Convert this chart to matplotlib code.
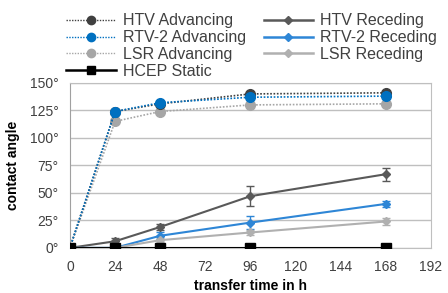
import matplotlib
matplotlib.use("Agg")
import matplotlib.pyplot as plt
from matplotlib.lines import Line2D

plt.rcParams['font.family'] = ['Liberation Sans', 'DejaVu Sans']

time_h = [0, 24, 48, 96, 168]
htv_adv = [0, 124, 131, 140, 141]
rtv_adv = [0, 124, 132, 137, 138]
lsr_adv = [0, 115, 124, 130, 131]
htv_rec = [0, 6, 19, 47, 67]
rtv_rec = [0, 0, 11, 23, 40]
lsr_rec = [0, 0, 7, 14, 24]
hcep_static = [0, 0, 0, 0, 0]
htv_adv_err = [0, 2, 2, 2, 2]
rtv_adv_err = [0, 2, 2, 2, 2]
lsr_adv_err = [0, 2, 2, 2, 2]
htv_rec_err = [0, 3, 3, 9, 6]
rtv_rec_err = [0, 1, 3, 6, 3]
lsr_rec_err = [0, 1, 2, 2, 3]

xticks = [0, 24, 48, 72, 96, 120, 144, 168, 192]
yticks = [0, 25, 50, 75, 100, 125, 150]

c_dark = '#404040'
c_blue = '#0070C0'
c_light = '#a6a6a6'
c_rdark = '#595959'
c_rblue = '#2e86d6'
c_rlight = '#b0b0b0'

fig = plt.figure(figsize=(4.48, 2.93), dpi=100)
ax = fig.add_axes([0.156, 0.154, 0.806, 0.563])

adv_ls = (0, (1, 1))

def adv(y, err, c):
    ax.errorbar(time_h, y, yerr=err, color=c, ls=adv_ls, lw=1.2,
                marker='o', ms=7, capsize=2, elinewidth=1, zorder=3)

def rec(y, err, c):
    ax.errorbar(time_h, y, yerr=err, color=c, ls='-', lw=1.5,
                marker='D', ms=4, capsize=3, elinewidth=1, zorder=4)

rec(htv_rec, htv_rec_err, c_rdark)
rec(rtv_rec, rtv_rec_err, c_rblue)
rec(lsr_rec, lsr_rec_err, c_rlight)
adv(lsr_adv, lsr_adv_err, c_light)
adv(htv_adv, htv_adv_err, c_dark)
adv(rtv_adv, rtv_adv_err, c_blue)
ax.plot(time_h, hcep_static, color='black', lw=1.5, marker='s', ms=7, zorder=5)

ax.set_xlim(0, 192)
ax.set_ylim(0, 150)
ax.set_xticks(xticks)
ax.set_yticks(yticks)
ax.set_yticklabels([f'{v}°' for v in yticks])
ax.tick_params(length=0, labelsize=10, colors='#404040')
ax.tick_params(axis='y', pad=8)
ax.tick_params(axis='x', pad=9)
ax.grid(axis='y', color='#bfbfbf', lw=1)
ax.set_axisbelow(True)
for s in ax.spines.values():
    s.set_color('#bfbfbf')
ax.spines['left'].set_color('#a0a0a0')
ax.set_xlabel('transfer time in h', fontsize=10, fontweight='bold', labelpad=3)
ax.set_ylabel('contact angle', fontsize=10, fontweight='bold', labelpad=7)

handles = [
    Line2D([], [], color=c_dark, ls=adv_ls, lw=1.0, marker='o', ms=6),
    Line2D([], [], color=c_blue, ls=adv_ls, lw=1.0, marker='o', ms=6),
    Line2D([], [], color=c_light, ls=adv_ls, lw=1.0, marker='o', ms=6),
    Line2D([], [], color='black', lw=1.8, marker='s', ms=6),
    Line2D([], [], color=c_rdark, lw=1.8, marker='D', ms=4),
    Line2D([], [], color=c_rblue, lw=1.8, marker='D', ms=4),
    Line2D([], [], color=c_rlight, lw=1.8, marker='D', ms=4),
]
labels = ['HTV Advancing', 'RTV-2 Advancing', 'LSR Advancing', 'HCEP Static',
          'HTV Receding', 'RTV-2 Receding', 'LSR Receding']
fig.legend(handles, labels, ncol=2, loc='upper left', bbox_to_anchor=(0.148, 0.955),
           frameon=False, fontsize=11.5, handlelength=3.1, handletextpad=0.45,
           columnspacing=1.1, labelspacing=0.12, borderpad=0, borderaxespad=0,
           labelcolor='#404040')

fig.savefig('out.png', dpi=100)
